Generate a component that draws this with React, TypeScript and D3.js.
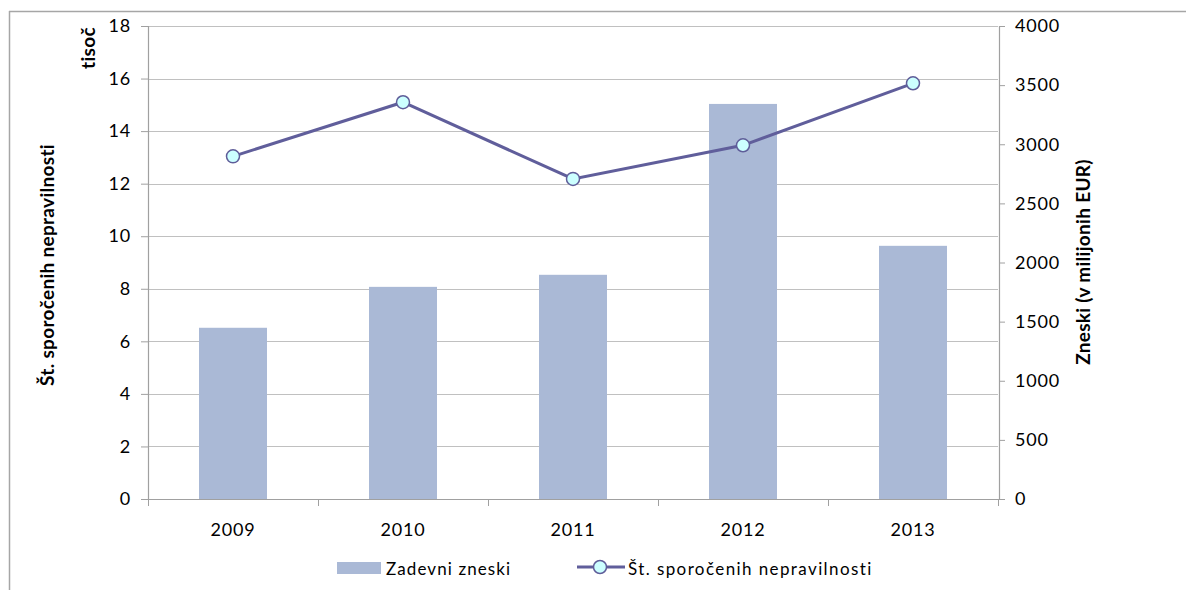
import { useEffect, useRef } from "react";
import { axisBottom, axisLeft, axisRight, format, line, scaleBand, scaleLinear, select } from "d3";

const years = ["2009", "2010", "2011", "2012", "2013"];
// Zadevni zneski (v milijonih EUR), right axis
const amounts = [1448, 1794, 1896, 3341, 2141];
// Št. sporočenih nepravilnosti (tisoč), left axis
const counts = [13.04, 15.1, 12.18, 13.46, 15.82];
const leftTicks = [0, 2, 4, 6, 8, 10, 12, 14, 16, 18];
const rightTicks = [0, 500, 1000, 1500, 2000, 2500, 3000, 3500, 4000];

const FONT = "Lato, 'Open Sans', sans-serif";

export default function App() {
  const svgRef = useRef<SVGSVGElement | null>(null);

  useEffect(() => {
    document.body.style.margin = "0";
    const svg = select(svgRef.current);
    svg.selectAll("*").remove();

    const left = 148;
    const right = 998;
    const top = 26;
    const bottom = 499;

    const x = scaleBand().domain(years).range([left, right]).padding(0);
    const yL = scaleLinear().domain([0, 18]).range([bottom, top]);
    const yR = scaleLinear().domain([0, 4000]).range([bottom, top]);

    // outer frame (only left and top edges visible)
    svg.append("line").attr("x1", 9.5).attr("x2", 9.5).attr("y1", 11).attr("y2", 590)
      .attr("stroke", "#a6a6a6").attr("stroke-width", 1.5);
    svg.append("line").attr("x1", 9).attr("x2", 1186).attr("y1", 11.5).attr("y2", 11.5)
      .attr("stroke", "#a6a6a6").attr("stroke-width", 1.5);

    // gridlines
    svg.append("g")
      .selectAll("line")
      .data(leftTicks.filter((t) => t > 0))
      .enter()
      .append("line")
      .attr("x1", left)
      .attr("x2", right)
      .attr("y1", (d) => Math.round(yL(d)) + 0.5)
      .attr("y2", (d) => Math.round(yL(d)) + 0.5)
      .attr("stroke", "#c0c0c0")
      .attr("stroke-width", 1.2);

    // bars
    const barW = x.bandwidth() * 0.4;
    svg.append("g")
      .selectAll("rect")
      .data(years)
      .enter()
      .append("rect")
      .attr("x", (d) => (x(d) || 0) + (x.bandwidth() - barW) / 2)
      .attr("y", (_, i) => yR(amounts[i]))
      .attr("width", barW)
      .attr("height", (_, i) => bottom - yR(amounts[i]))
      .attr("fill", "#aab9d6");

    // left axis
    const yAxisL = svg.append("g").attr("transform", `translate(${left},0)`);
    yAxisL.call(axisLeft(yL).tickValues(leftTicks).tickSize(7).tickPadding(10));
    // right axis
    const yAxisR = svg.append("g").attr("transform", `translate(${right + 1},0)`);
    yAxisR.call(axisRight(yR).tickValues(rightTicks).tickFormat(format("d")).tickSize(6).tickPadding(10));
    // bottom axis
    const xAxis = svg.append("g").attr("transform", `translate(0,${bottom})`);
    xAxis.call(axisBottom(x).tickSize(0).tickPadding(24));
    xAxis.selectAll(".domain").attr("d", `M${left},0.5H${right + 1}`);
    xAxis
      .selectAll(".sep")
      .data([...years.map((d) => x(d) || 0), right])
      .enter()
      .append("line")
      .attr("class", "sep")
      .attr("x1", (d) => Math.round(d) + 0.5)
      .attr("x2", (d) => Math.round(d) + 0.5)
      .attr("y1", 0)
      .attr("y2", 7)
      .attr("stroke", "#a0a0a0");

    [yAxisL, yAxisR, xAxis].forEach((a) => {
      a.selectAll(".domain").attr("stroke", "#a0a0a0").attr("stroke-width", 1.2);
      a.selectAll(".tick line").attr("stroke", "#a0a0a0");
      a.selectAll("text")
        .attr("fill", "#000")
        .style("font-family", FONT)
        .style("font-size", "18px")
        .style("letter-spacing", "0.8px");
    });

    // line series
    const cx = (i: number) => (x(years[i]) || 0) + x.bandwidth() / 2;
    const path = line<number>()
      .x((_, i) => cx(i))
      .y((d) => yL(d));
    svg.append("path")
      .datum(counts)
      .attr("d", path)
      .attr("fill", "none")
      .attr("stroke", "#605e9b")
      .attr("stroke-width", 3);
    svg.append("g")
      .selectAll("circle")
      .data(counts)
      .enter()
      .append("circle")
      .attr("cx", (_, i) => cx(i))
      .attr("cy", (d) => yL(d))
      .attr("r", 6.5)
      .attr("fill", "#ccffff")
      .attr("stroke", "#5f5d99")
      .attr("stroke-width", 1.5);

    // axis titles
    const title = (tx: number, ty: number, rot: number, txt: string) =>
      svg.append("text")
        .attr("transform", `translate(${tx},${ty}) rotate(${rot})`)
        .attr("text-anchor", "middle")
        .attr("dy", "0.35em")
        .style("font-family", FONT)
        .style("font-size", "19px")
        .style("font-weight", "bold")
        .style("letter-spacing", "0.3px")
        .text(txt);
    title(47, 265, -90, "Št. sporočenih nepravilnosti");
    title(88, 48, -90, "tisoč");
    title(1083, 262, -90, "Zneski (v milijonih EUR)");

    // legend
    const lg = svg.append("g");
    lg.append("rect").attr("x", 337).attr("y", 562).attr("width", 44).attr("height", 12).attr("fill", "#aab9d6");
    lg.append("text").attr("x", 386).attr("y", 575)
      .style("font-family", FONT).style("font-size", "17px").style("letter-spacing", "1.1px")
      .text("Zadevni zneski");
    lg.append("line").attr("x1", 577).attr("x2", 625).attr("y1", 567).attr("y2", 567)
      .attr("stroke", "#605e9b").attr("stroke-width", 3);
    lg.append("circle").attr("cx", 600).attr("cy", 567).attr("r", 6.5)
      .attr("fill", "#ccffff").attr("stroke", "#5f5d99").attr("stroke-width", 1.5);
    lg.append("text").attr("x", 628).attr("y", 575)
      .style("font-family", FONT).style("font-size", "17px").style("letter-spacing", "1.4px")
      .text("Št. sporočenih nepravilnosti");
  }, []);

  return (
    <svg
      ref={svgRef}
      width={1186}
      height={590}
      style={{ position: "absolute", left: 0, top: 0, background: "#fff" }}
    ></svg>
  );
}
